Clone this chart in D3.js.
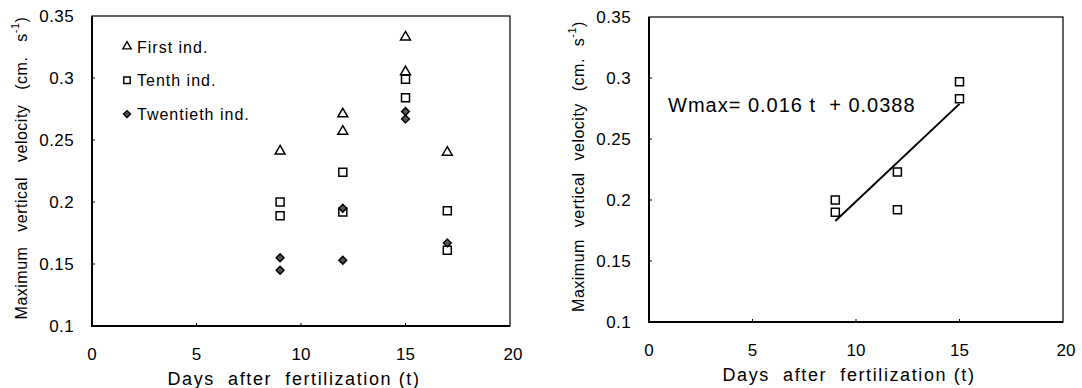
<!DOCTYPE html>
<html>
<head>
<meta charset="utf-8">
<script src="https://cdn.jsdelivr.net/npm/d3@7"></script>
<style>
  body { margin: 0; background: #fff; }
  svg { font-family: "Liberation Sans", Arial, sans-serif; }
</style>
</head>
<body>
<svg id="chart" width="1082" height="388"></svg>
<script>
// data
var xTicks = [0, 5, 10, 15, 20];
var yTicks = [0.1, 0.15, 0.2, 0.25, 0.3, 0.35];
var yTickLabels = ["0.1", "0.15", "0.2", "0.25", "0.3", "0.35"];

var firstInd = [[9, 0.241], [12, 0.271], [12, 0.257], [15, 0.333], [15, 0.305], [17, 0.240]];
var tenthInd = [[9, 0.200], [9, 0.189], [12, 0.224], [12, 0.192], [15, 0.299], [15, 0.284], [17, 0.193], [17, 0.161]];
var twentiethInd = [[9, 0.155], [9, 0.145], [12, 0.195], [12, 0.153], [15, 0.273], [15, 0.267], [17, 0.167]];

var fitPoints = [[9, 0.200], [9, 0.190], [12, 0.223], [12, 0.192], [15, 0.297], [15, 0.283]];
var fitSlope = 0.016, fitIntercept = 0.0388, fitRange = [9, 15];

var legendNames = ["First ind.", "Tenth ind.", "Twentieth ind."];

var svg = d3.select("#chart");

function panel(box, cfg) {
  var x = d3.scaleLinear().domain([0, 20]).range([box.l, box.r]),
      y = d3.scaleLinear().domain([0.1, 0.35]).range([box.b, box.t]);
  var g = svg.append("g");

  // frame
  g.append("rect").attr("x", box.l).attr("y", box.t)
    .attr("width", box.r - box.l).attr("height", box.b - box.t)
    .attr("fill", "none").attr("stroke", "#111").attr("stroke-width", 1.3);
  g.append("path")
    .attr("d", "M" + box.l + "," + box.t + "V" + box.b + "H" + box.r)
    .attr("fill", "none").attr("stroke", "#000").attr("stroke-width", 2);

  // tick marks (inside) and labels
  yTicks.forEach(function (v, i) {
    if (i > 0 && i < yTicks.length - 1)
      g.append("line").attr("x1", box.l).attr("x2", box.l + 3)
        .attr("y1", y(v)).attr("y2", y(v)).attr("stroke", "#000");
    g.append("text").attr("x", box.l - 18).attr("y", y(v) + 6)
      .attr("text-anchor", "end").attr("font-size", 17).attr("letter-spacing", 0.4)
      .text(yTickLabels[i]);
  });
  xTicks.forEach(function (v, i) {
    if (i > 0 && i < xTicks.length - 1)
      g.append("line").attr("x1", x(v)).attr("x2", x(v))
        .attr("y1", box.b).attr("y2", box.b - 3).attr("stroke", "#000");
    g.append("text").attr("x", x(v) + (i === xTicks.length - 1 ? 3 : 0)).attr("y", box.b + 34)
      .attr("text-anchor", "middle").attr("font-size", 17).text(v);
  });

  // axis titles
  g.append("text").attr("x", (box.l + box.r) / 2 - 7).attr("y", box.b + 59)
    .attr("text-anchor", "middle").attr("font-size", 18)
    .attr("letter-spacing", 1.6).style("white-space", "pre")
    .text("Days  after  fertilization (t)");

  var yt = g.append("text")
    .attr("transform", "translate(" + (box.l - 65) + "," + ((box.t + box.b) / 2 - 3) + ") rotate(-90)")
    .attr("text-anchor", "middle").attr("font-size", 16)
    .attr("letter-spacing", 0.5).attr("word-spacing", box.ws);
  yt.append("tspan").text("Maximum vertical velocity (cm. s");
  yt.append("tspan").attr("dy", -8).attr("font-size", 11).text("-1");
  yt.append("tspan").attr("dy", 8).text(")");

  cfg(g, x, y);
}

var tri = d3.symbol().type(d3.symbolTriangle).size(42),
    sq = d3.symbol().type(d3.symbolSquare).size(64),
    dia = d3.symbol().type(d3.symbolSquare).size(30);

function drawMarks(g, data, sym, fill, x, y, rot) {
  g.selectAll(null).data(data).enter().append("path")
    .attr("d", sym)
    .attr("transform", function (d) { return "translate(" + x(d[0]) + "," + y(d[1]) + ")" + (rot ? " rotate(45)" : ""); })
    .attr("fill", fill).attr("stroke", "#000").attr("stroke-width", 1.5);
}

panel({ l: 92, r: 510, t: 16, b: 326, ws: 10 }, function (g, x, y) {
  drawMarks(g, firstInd, tri, "#fff", x, y);
  drawMarks(g, tenthInd, sq, "#fff", x, y);
  drawMarks(g, twentiethInd, dia, "#555", x, y, true);

  var syms = [d3.symbol().type(d3.symbolTriangle).size(30), d3.symbol().type(d3.symbolSquare).size(42), d3.symbol().type(d3.symbolSquare).size(24)],
      fills = ["#fff", "#fff", "#555"];
  legendNames.forEach(function (n, i) {
    var ly = 46.5 + i * 33.8;
    g.append("path").attr("d", syms[i]())
      .attr("transform", "translate(127," + ly + ")" + (i === 2 ? " rotate(45)" : ""))
      .attr("fill", fills[i]).attr("stroke", "#000").attr("stroke-width", 1.4);
    g.append("text").attr("x", 137).attr("y", ly + 6).attr("font-size", 16)
      .attr("letter-spacing", 1).text(n);
  });
});

panel({ l: 649, r: 1063, t: 17, b: 322, ws: 7 }, function (g, x, y) {
  g.append("line")
    .attr("x1", x(fitRange[0])).attr("y1", y(fitSlope * fitRange[0] + fitIntercept))
    .attr("x2", x(fitRange[1])).attr("y2", y(fitSlope * fitRange[1] + fitIntercept))
    .attr("stroke", "#000").attr("stroke-width", 2);
  drawMarks(g, fitPoints, sq, "#fff", x, y);
  g.append("text").attr("x", 668).attr("y", 112).attr("font-size", 20)
    .attr("letter-spacing", 1).style("white-space", "pre")
    .text("Wmax= 0.016 t  + 0.0388");
});
</script>
</body>
</html>
